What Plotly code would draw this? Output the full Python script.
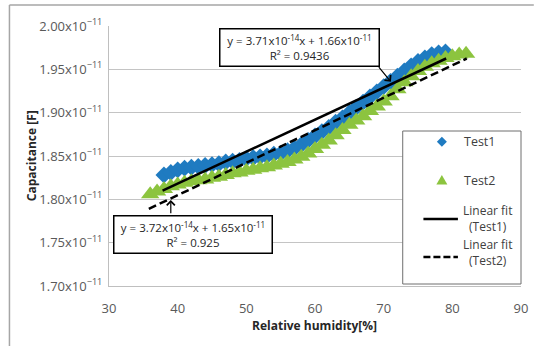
import plotly.graph_objects as go

# ---------------- data ----------------
rh_test1 = list(range(38, 80))
cap_test1_e11 = [1.828, 1.831, 1.834, 1.836, 1.837, 1.838, 1.839, 1.840, 1.841, 1.843,
                 1.844, 1.845, 1.847, 1.848, 1.849, 1.850, 1.852, 1.853, 1.856, 1.859,
                 1.863, 1.868, 1.873, 1.878, 1.883, 1.889, 1.894, 1.900, 1.906, 1.912,
                 1.918, 1.924, 1.930, 1.936, 1.942, 1.948, 1.954, 1.959, 1.963, 1.967,
                 1.969, 1.970]
rh_test2 = list(range(36, 83))
cap_test2_e11 = [1.806, 1.809, 1.812, 1.815, 1.817, 1.819, 1.821, 1.822, 1.823, 1.825,
                 1.826, 1.828, 1.830, 1.831, 1.833, 1.834, 1.836, 1.837, 1.839, 1.841,
                 1.843, 1.846, 1.849, 1.853, 1.858, 1.863, 1.868, 1.874, 1.880, 1.886,
                 1.891, 1.896, 1.902, 1.907, 1.913, 1.919, 1.927, 1.935, 1.942, 1.948,
                 1.953, 1.957, 1.960, 1.963, 1.965, 1.967, 1.968]
fit1_rh = [37.8, 79.1]
fit1_cap_e11 = [1.810, 1.9625]
fit2_rh = [35.8, 82.1]
fit2_cap_e11 = [1.789, 1.9625]

x_ticks = [30, 40, 50, 60, 70, 80, 90]
y_ticks_e11 = [1.70, 1.75, 1.80, 1.85, 1.90, 1.95, 2.00]
y_tick_text = ["%.2fx10<sup>\u221211</sup>" % v for v in y_ticks_e11]

S = 1e-11
cap1 = [v * S for v in cap_test1_e11]
cap2 = [v * S for v in cap_test2_e11]
fit1 = [v * S for v in fit1_cap_e11]
fit2 = [v * S for v in fit2_cap_e11]
y_ticks = [v * S for v in y_ticks_e11]

BLUE = "#1f7bc1"
GREEN = "#8cc43f"
FONT = "Open Sans"

# ---------------- layout geometry helpers (pixels -> paper) ----------------
W, H = 540, 346
ML, MR, MT, MB = 109, 13, 26, 60
PW, PH = W - ML - MR, H - MT - MB


def PX(px):
    return (px - ML) / PW


def PY(py):
    return (H - MB - py) / PH


fig = go.Figure()
fig.add_trace(go.Scatter(x=rh_test1, y=cap1, mode="markers", name="Test1",
                         marker=dict(symbol="diamond", size=13, color=BLUE, line=dict(width=0))))
fig.add_trace(go.Scatter(x=rh_test2, y=cap2, mode="markers", name="Test2",
                         marker=dict(symbol="triangle-up", size=16, color=GREEN, line=dict(width=0))))
fig.add_trace(go.Scatter(x=fit1_rh, y=fit1, mode="lines", name="Linear fit (Test1)",
                         line=dict(color="black", width=2.5)))
fig.add_trace(go.Scatter(x=fit2_rh, y=fit2, mode="lines", name="Linear fit (Test2)",
                         line=dict(color="black", width=2.5, dash="8px,4px")))

shapes = []
# outer frame (left and top edges)
shapes.append(dict(type="line", xref="paper", yref="paper", x0=PX(8), x1=PX(8), y0=PY(5), y1=PY(346),
                   line=dict(color="#a6a6a6", width=1.5)))
shapes.append(dict(type="line", xref="paper", yref="paper", x0=PX(8), x1=PX(540), y0=PY(5), y1=PY(5),
                   line=dict(color="#a6a6a6", width=1.5)))
# legend box
shapes.append(dict(type="rect", xref="paper", yref="paper", x0=PX(407), x1=PX(527), y0=PY(284), y1=PY(131),
                   line=dict(color="#6f6f6f", width=1), fillcolor="white", layer="above"))
# legend symbols
shapes.append(dict(type="path", xref="paper", yref="paper", xsizemode="pixel", ysizemode="pixel",
                   xanchor=PX(446.7), yanchor=PY(141.7), path="M -5 0 L 0 5 L 5 0 L 0 -5 Z",
                   fillcolor=BLUE, line=dict(width=0), layer="above"))
shapes.append(dict(type="path", xref="paper", yref="paper", xsizemode="pixel", ysizemode="pixel",
                   xanchor=PX(446.7), yanchor=PY(180), path="M -5.5 -4.5 L 5.5 -4.5 L 0 5 Z",
                   fillcolor=GREEN, line=dict(width=0), layer="above"))
shapes.append(dict(type="line", xref="paper", yref="paper", x0=PX(428), x1=PX(463), y0=PY(219), y1=PY(219),
                   line=dict(color="black", width=2.5), layer="above"))
shapes.append(dict(type="line", xref="paper", yref="paper", x0=PX(428), x1=PX(463), y0=PY(257), y1=PY(257),
                   line=dict(color="black", width=2.5, dash="7px,3px"), layer="above"))

ann = []
TXT = "#404040"
ann.append(dict(xref="paper", yref="paper", x=PX(466.7), y=PY(141.7), xanchor="left", yanchor="middle",
                text="Test1", showarrow=False, font=dict(family=FONT, size=12.5, color=TXT)))
ann.append(dict(xref="paper", yref="paper", x=PX(466.7), y=PY(180), xanchor="left", yanchor="middle",
                text="Test2", showarrow=False, font=dict(family=FONT, size=12.5, color=TXT)))
ann.append(dict(xref="paper", yref="paper", x=PX(493.5), y=PY(218.5), xanchor="center", yanchor="middle",
                text="Linear fit<br>(Test1)", align="center", showarrow=False,
                font=dict(family=FONT, size=12, color=TXT)))
ann.append(dict(xref="paper", yref="paper", x=PX(493.5), y=PY(252.5), xanchor="center", yanchor="middle",
                text="Linear fit<br>(Test2)", align="center", showarrow=False,
                font=dict(family=FONT, size=12, color=TXT)))

# equation boxes
ann.append(dict(xref="paper", yref="paper", x=PX(302), y=PY(47), xanchor="center", yanchor="middle",
                text="y = 3.71x10<sup>-14</sup>x + 1.66x10<sup>-11</sup><br>R\u00b2 = 0.9436",
                align="center", showarrow=False, bgcolor="white", bordercolor="black",
                borderwidth=1.5, borderpad=2, width=154, height=32,
                font=dict(family=FONT, size=11.5, color="#262626")))
ann.append(dict(xref="paper", yref="paper", x=PX(194), y=PY(234), xanchor="center", yanchor="middle",
                text="y = 3.72x10<sup>-14</sup>x + 1.65x10<sup>-11</sup><br>R\u00b2 = 0.925",
                align="center", showarrow=False, bgcolor="white", bordercolor="black",
                borderwidth=1.5, borderpad=2, width=153, height=32,
                font=dict(family=FONT, size=11.5, color="#262626")))
# arrows
ann.append(dict(xref="paper", yref="paper", x=PX(395), y=PY(81.7), ax=-13.3, ay=-16, text="",
                showarrow=True, arrowhead=4, arrowsize=1.3, arrowwidth=1.2, arrowcolor="black"))
ann.append(dict(xref="paper", yref="paper", x=PX(171.7), y=PY(200), ax=0, ay=14.7, text="",
                showarrow=True, arrowhead=4, arrowsize=1.3, arrowwidth=1.2, arrowcolor="black"))

# axis titles
ann.append(dict(xref="paper", yref="paper", x=PX(317), y=PY(325.7), xanchor="center", yanchor="middle",
                text="<b>Relative humidity[%]</b>", showarrow=False,
                font=dict(family=FONT, size=12, color="#262626")))
ann.append(dict(xref="paper", yref="paper", x=PX(30), y=PY(156), xanchor="center", yanchor="middle",
                text="<b>Capacitance [F]</b>", textangle=-90, showarrow=False,
                font=dict(family=FONT, size=12, color="#262626")))

fig.update_layout(
    width=W, height=H,
    margin=dict(l=ML, r=MR, t=MT, b=MB, pad=0),
    paper_bgcolor="white", plot_bgcolor="white",
    showlegend=False,
    shapes=shapes, annotations=ann,
    font=dict(family=FONT, size=13, color="#595959"),
    xaxis=dict(range=[30, 90], tickvals=x_ticks, showgrid=False, zeroline=False,
               showline=True, linecolor="#bfbfbf", linewidth=1.2, ticks="",
               ticklabelstandoff=10, tickfont=dict(family=FONT, size=13, color="#595959")),
    yaxis=dict(range=[y_ticks[0], y_ticks[-1]], tickvals=y_ticks, ticktext=y_tick_text,
               showgrid=True, gridcolor="#c4c4c4", gridwidth=1, zeroline=False,
               showline=True, linecolor="#bfbfbf", linewidth=1.2, ticks="",
               ticklabelstandoff=3, tickfont=dict(family=FONT, size=13, color="#595959")),
)

fig.write_html("out.html")
